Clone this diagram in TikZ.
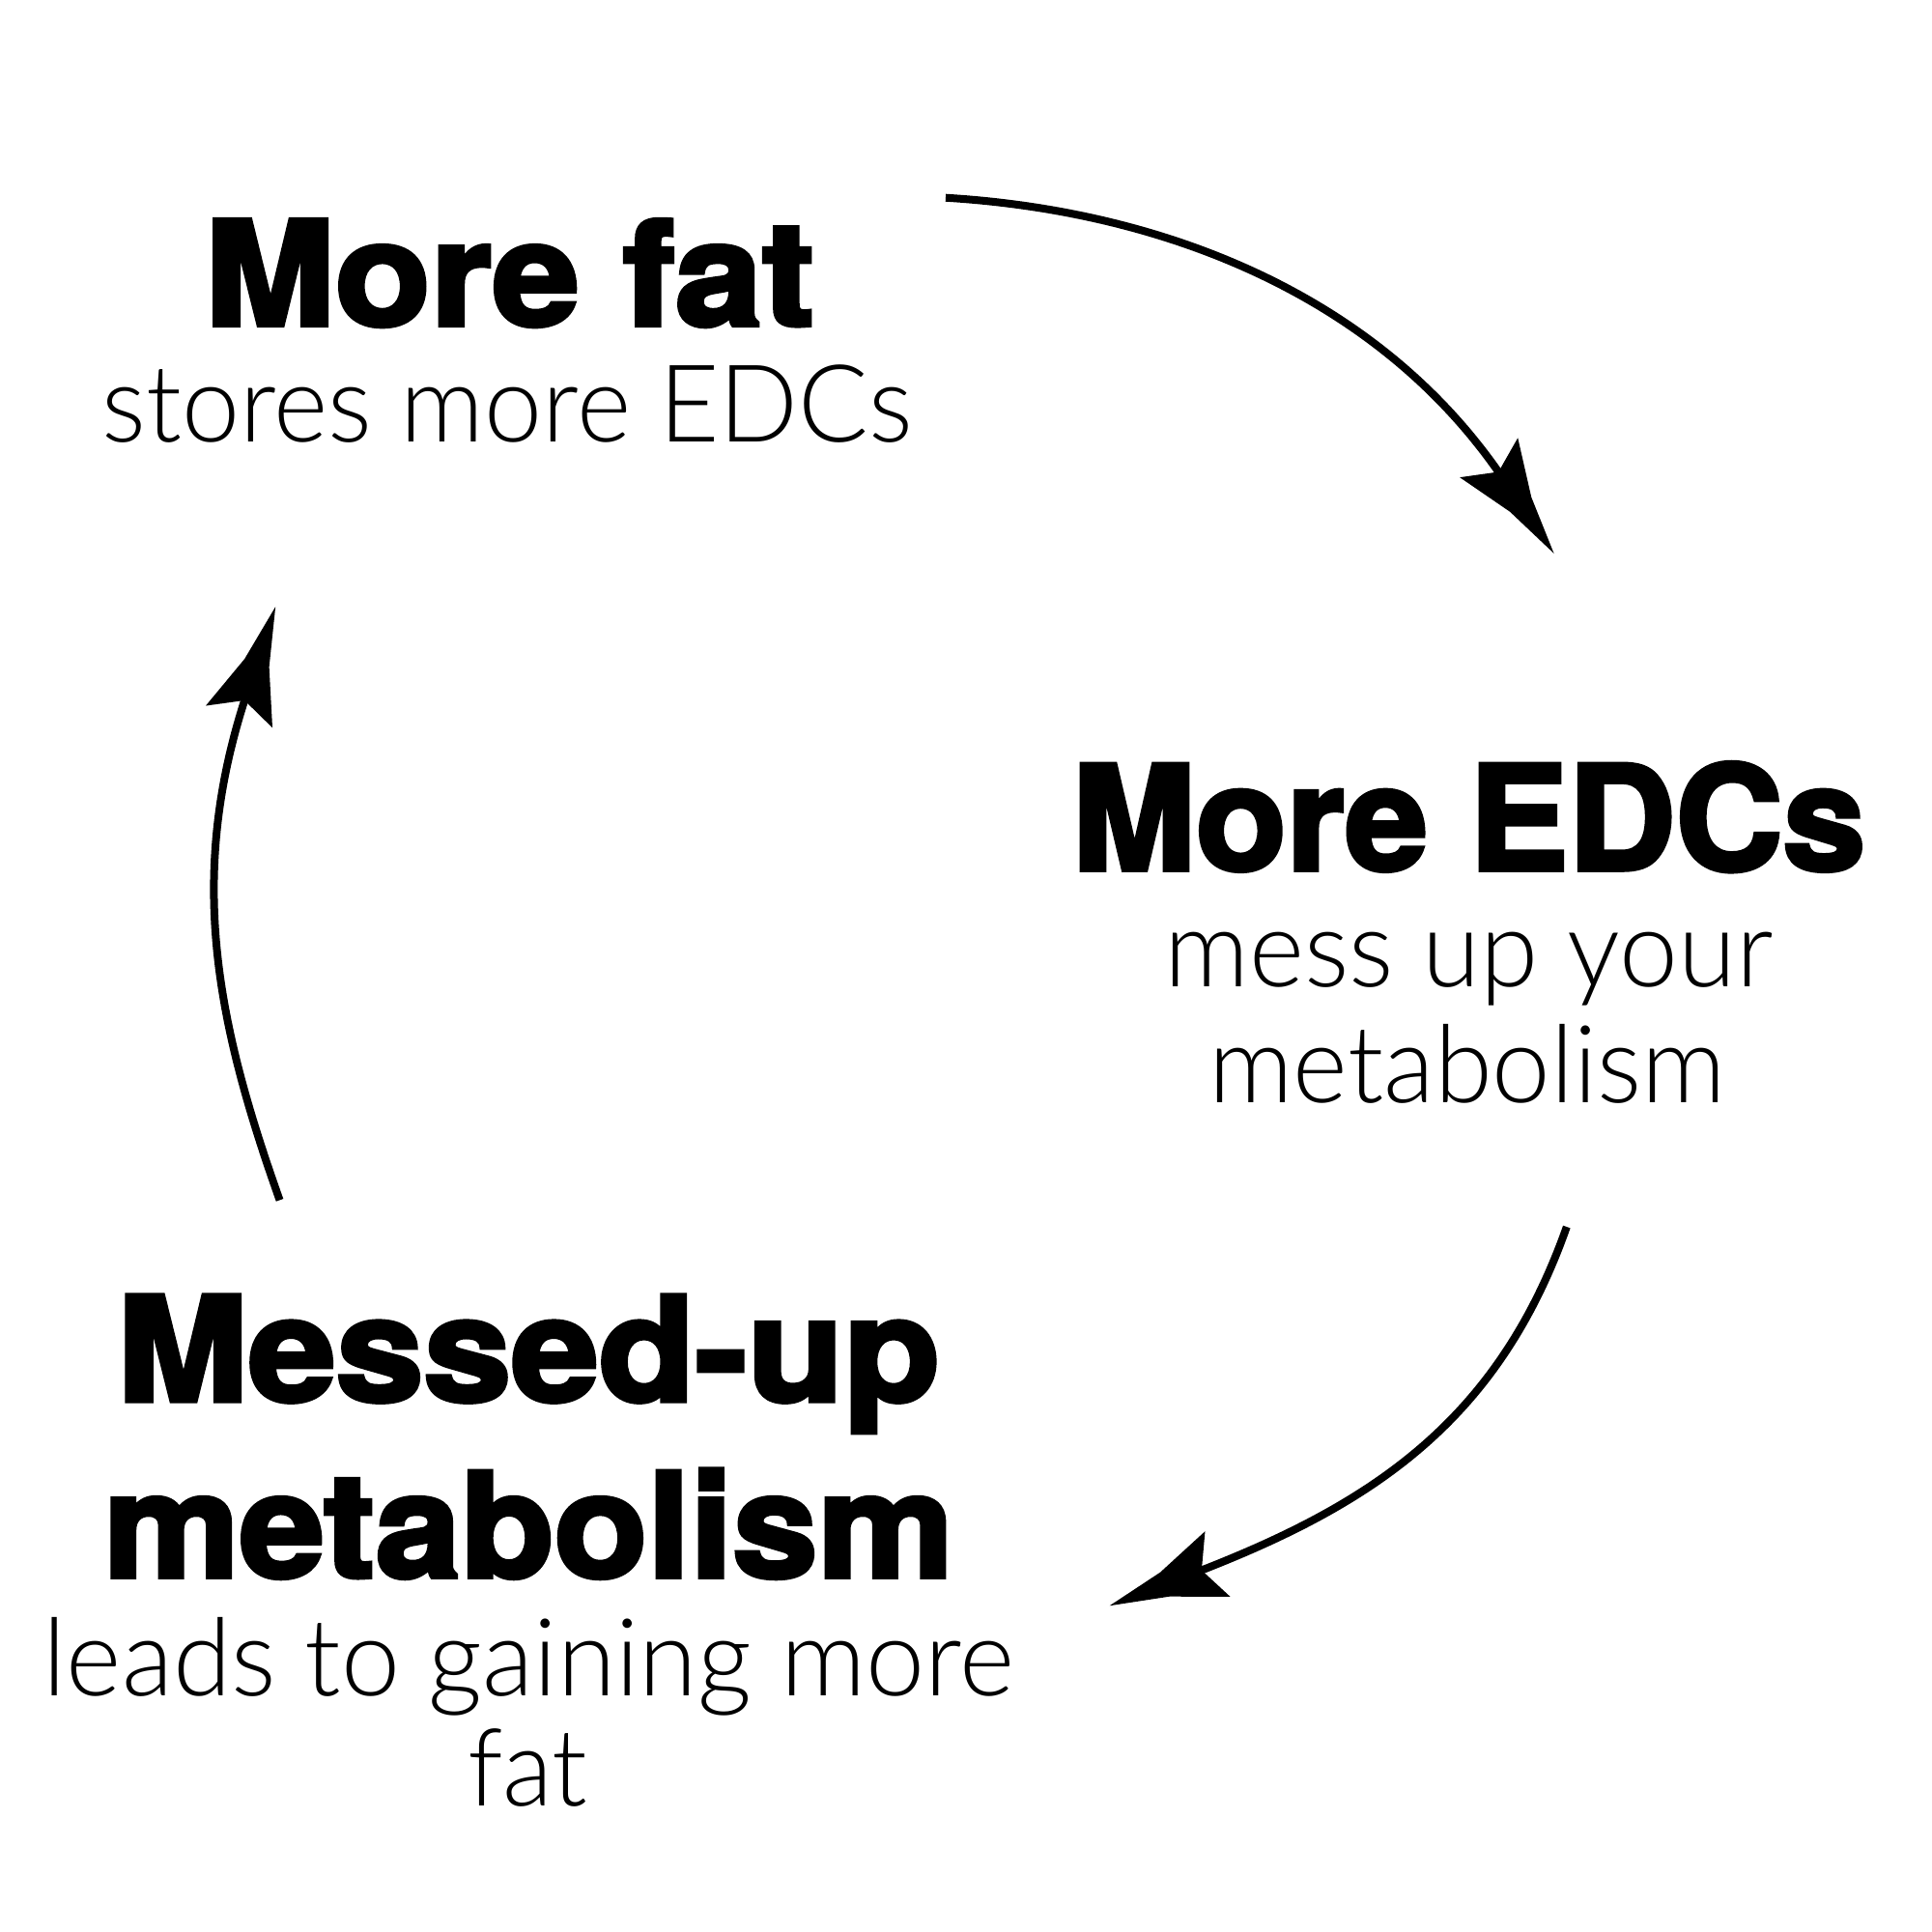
\documentclass[tikz,border=0pt]{standalone}
\usepackage{fontspec}
\usepackage{graphicx}
\IfFontExistsTF{Lato Light}{\newfontfamily\lightf{Lato Light}}{%
  \IfFontExistsTF{Noto Sans Light}{\newfontfamily\lightf{Noto Sans Light}}{%
    \newfontfamily\lightf{TeX Gyre Heros}}}
\newfontfamily\heavyf{TeX Gyre Heros}[BoldFeatures={FakeBold=3}]
\newlength\Uu \setlength\Uu{0.12755mm}
\newlength\refh \newlength\tw
\newcommand\setsz[3]{#1\fontsize{10pt}{12pt}\selectfont\settoheight\refh{#2}%
  \edef\fsz{\fpeval{10*#3*\Uu/\refh}}\fontsize{\fsz pt}{\fsz pt}\selectfont}
\newcommand\fitw[2]{\settowidth\tw{#2}\scalebox{\fpeval{#1*\Uu/\tw}}[1]{#2}}
\newcommand\hv[3]{\setsz{\heavyf\bfseries}{H}{#1}\fitw{#2}{#3}}
\newcommand\lt[3]{\setsz{\lightf}{x}{#1}\fitw{#2}{#3}}
% barbed arrow head; the path ends 27pt behind the tip, no shortening
\pgfdeclarearrow{
  name = barbtip,
  setup code = {
    \pgfarrowssettipend{0pt}
    \pgfarrowssetlineend{0pt}
    \pgfarrowssetbackend{-7.11pt}
    \pgfarrowssetvisualbackend{-2pt}
    \pgfarrowshullpoint{27pt}{0pt}
    \pgfarrowshullpoint{-7.11pt}{10.34pt}
    \pgfarrowshullpoint{-7.11pt}{-10.34pt}
  },
  drawing code = {
    \pgfpathmoveto{\pgfqpoint{27pt}{0pt}}
    \pgfpathlineto{\pgfqpoint{9.58pt}{3.81pt}}
    \pgfpathlineto{\pgfqpoint{-7.11pt}{10.34pt}}
    \pgfpathlineto{\pgfqpoint{-2.03pt}{0pt}}
    \pgfpathlineto{\pgfqpoint{-7.11pt}{-10.34pt}}
    \pgfpathlineto{\pgfqpoint{9.58pt}{-3.81pt}}
    \pgfpathclose
    \pgfusepathqfill
  }
}
\begin{document}
\begin{tikzpicture}[x=0.12755mm,y=-0.12755mm,
  conn/.style={line width=0.8mm, line cap=butt, -barbtip},
  txt/.style={anchor=base, inner sep=0pt, outer sep=0pt}]
\useasboundingbox[fill=white] (0,0) rectangle (1568,1568);
% texts
\node[txt] (fatT) at (413.5,264) {\hv{86}{495}{More fat}};
\node[txt] (fatS) at (412,358.5) {\lt{43.5}{658}{stores more EDCs}};
\node[txt] (edcT) at (1192,706) {\hv{86}{644}{More EDCs}};
\node[txt] (edcS1) at (1192,800.5) {\lt{43.5}{494}{mess up your}};
\node[txt] (edcS2) at (1191,895) {\lt{43.5}{420}{metabolism}};
\node[txt] (metT1) at (429,1137) {\hv{86}{668}{Messed-up}};
\node[txt] (metT2) at (429,1280) {\hv{86}{690}{metabolism}};
\node[txt] (metS1) at (429,1376) {\lt{43.5}{788}{leads to gaining more}};
\node[txt] (metS2) at (428.5,1466) {\lt{43.5}{97}{fat}};
% connector ends (end = point 27pt behind the arrow tip)
\coordinate (a1s) at (767.5,160.5);
\coordinate (a1e) at (1219.3,387.6);
\coordinate (a2s) at (1271.5,995.7);
\coordinate (a2e) at (970,1276.4);
\coordinate (a3s) at (227,974);
\coordinate (a3e) at (200.2,563.1);
\draw[conn] (a1s) .. controls +(177.6,10.7) and +(-100.4,-147.7) .. (a1e);
\draw[conn] (a2s) .. controls +(-56.4,160.3) and +(140,-54) .. (a2e);
\draw[conn] (a3s) .. controls +(-51.9,-146) and +(-48.7,147.3) .. (a3e);
\end{tikzpicture}
\end{document}
